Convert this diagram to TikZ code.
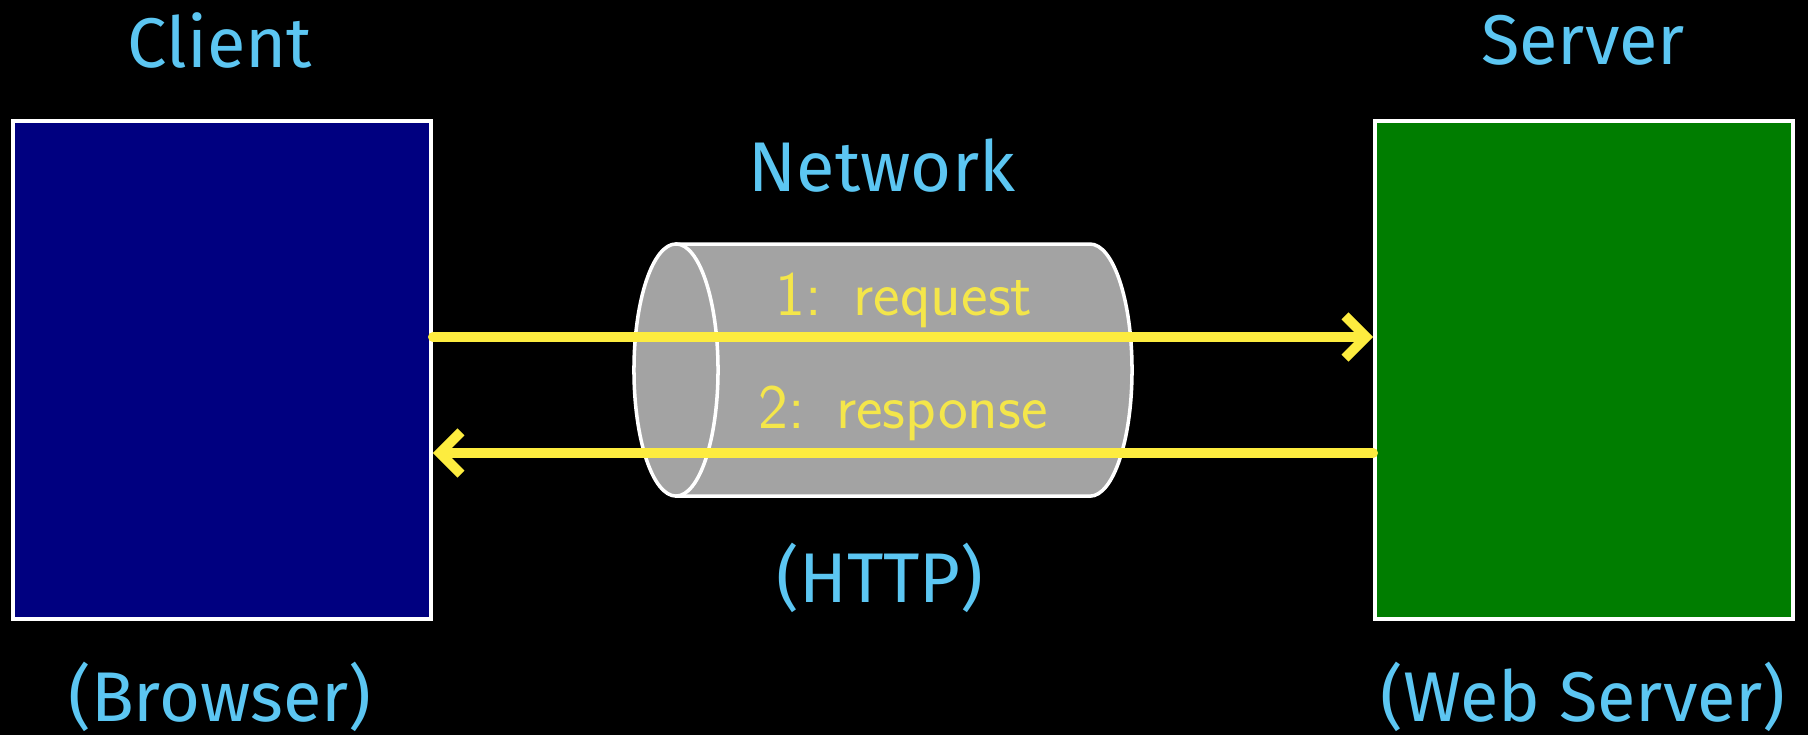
\documentclass[tikz,border=0pt]{standalone}
\usepackage{fontspec}
\newfontfamily\handfont{Fira Sans}
\usetikzlibrary{arrows.meta}
\definecolor{lblue}{HTML}{5CC6F2}
\definecolor{navyc}{HTML}{000080}
\definecolor{greenc}{HTML}{007D00}
\definecolor{cylgray}{HTML}{A3A3A3}
\definecolor{yel}{HTML}{FDEC3F}
\definecolor{yeltext}{HTML}{F4E64A}
\tikzset{
  hand/.style={text=lblue, font=\handfont\fontsize{20}{24}\selectfont, inner sep=0pt},
  box/.style={draw=white, line width=1pt, minimum width=4.18cm, minimum height=4.98cm, inner sep=0pt},
  msg/.style={text=yeltext, font=\sffamily\fontsize{18}{22}\selectfont, inner sep=0pt},
  arr/.style={draw=yel, line width=2.8pt, line cap=round, -{Straight Barb[length=6pt,width=12pt,line width=2.8pt]}},
}
\begin{document}
\begin{tikzpicture}[x=0.01cm,y=-0.01cm]
\fill[black] (0,0) rectangle (1808,735);
\useasboundingbox (0,0) rectangle (1808,735);
% boxes
\node[box, fill=navyc] (client) at (222,370) {};
\node[box, fill=greenc] (server) at (1584,370) {};
% labels
\node[hand] (clientlbl) at (220,40) {Client};
\node[hand] (serverlbl) at (1583,40) {Server};
\node[hand] (browser) at (220,697) {(Browser)};
\node[hand] (webserver) at (1583,697) {(Web Server)};
\node[hand] (network) at (882,166) {Network};
\node[hand] (http) at (880,578) {(HTTP)};
% cylinder
\fill[cylgray] (676,244) -- (1090,244) arc[start angle=90, end angle=-90, x radius=0.42cm, y radius=1.26cm] -- (676,496) arc[start angle=-90, end angle=-270, x radius=0.42cm, y radius=1.26cm] -- cycle;
\draw[white, line width=1pt] (676,244) -- (1090,244) arc[start angle=90, end angle=-90, x radius=0.42cm, y radius=1.26cm] -- (676,496);
\draw[white, line width=1pt] (676,370) ellipse[x radius=0.42cm, y radius=1.26cm];
\node[msg] (req) at (904,300) {1:\hspace{0.5em}request};
\node[msg] (resp) at (903,413) {2:\hspace{0.5em}response};
% arrows
\coordinate (ry) at (0,337);
\coordinate (sy) at (0,453);
\draw[arr] (client.east |- ry) -- (server.west |- ry);
\draw[arr] (server.west |- sy) -- (client.east |- sy);
\end{tikzpicture}
\end{document}
